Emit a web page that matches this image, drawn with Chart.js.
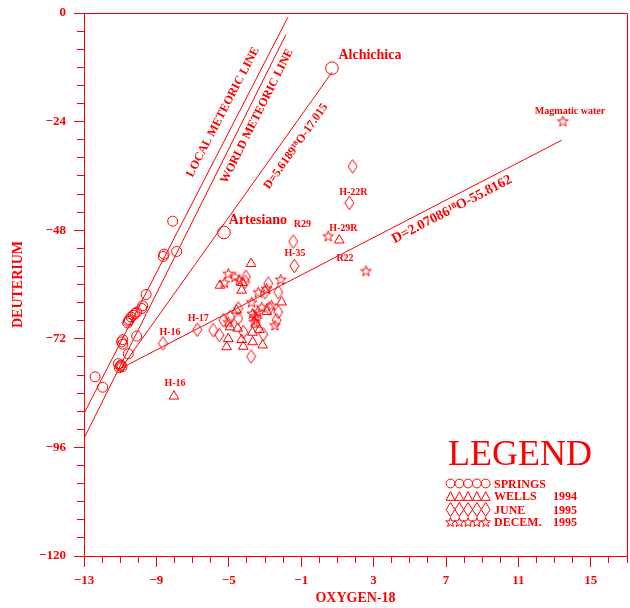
<!DOCTYPE html>
<html>
<head>
<meta charset="utf-8">
<script src="https://cdn.jsdelivr.net/npm/chart.js@4.4.1/dist/chart.umd.min.js"></script>
<style>
  body { margin: 0; background: #fff; }
</style>
</head>
<body>
<canvas id="isotopes" width="630" height="608"></canvas>
<script>
var red = '#ff0000';
var serif = '"Liberation Serif", "DejaVu Serif", serif';

// springs (circles)
var springsX = [-8.10, -8.58, -8.62, -7.88, -9.57, -9.76, -9.81, -10.18, -10.28, -10.09, -10.40,
  -10.55, -10.59, -10.50, -10.09, -10.86, -10.92, -10.86, -10.55, -11.10, -11.00, -10.90, -11.05,
  -10.95, -12.39, -11.97];
var springsY = [-46.0, -53.3, -53.8, -52.7, -62.2, -64.7, -65.3, -66.4, -66.8, -66.1, -67.2,
  -68.1, -68.5, -67.8, -71.4, -72.2, -72.7, -73.2, -75.3, -77.5, -78.0, -78.2, -78.4,
  -77.8, -80.4, -82.7];
var namedSpringsX = [-5.27, 0.70];
var namedSpringsY = [-48.5, -12.2];

// wells 1994 (triangles)
var wellsX = [-8.03, -3.77, -5.49, -4.29, -4.25, -2.08, -4.57, -4.93, -4.51, -5.03, -4.29,
  -3.68, -3.13, -5.12, -4.20, -3.50, -3.70, -3.30, -2.90, 1.10];
var wellsY = [-84.7, -55.4, -60.2, -61.3, -59.6, -63.9, -65.7, -69.4, -69.7, -72.0, -72.2,
  -72.7, -73.4, -73.8, -73.7, -68.8, -70.6, -70.0, -66.0, -50.2];

// june 1995 (diamonds)
var juneX = [-8.64, -6.74, -5.86, -5.52, -3.77, -1.44, -1.38, 1.84, 1.66, -4.05, -4.10, -2.82,
  -3.00, -2.27, -4.48, -2.77, -2.27, -4.48, -2.36, -4.93, -5.30, -3.10, -4.20];
var juneY = [-73.0, -70.0, -70.1, -71.2, -75.9, -50.5, -55.9, -33.9, -42.0, -58.3, -59.4, -59.8,
  -61.7, -61.7, -65.3, -65.3, -66.1, -67.5, -67.9, -67.2, -67.9, -71.0, -70.5];

// december 1995 (stars)
var decemX = [-5.03, -4.66, -4.42, -5.25, -2.13, -3.37, -2.91, -3.74, -3.55, -3.70, -3.45,
  -3.60, -3.40, -5.03, -2.45, -3.18, -2.64, 0.49, 2.58];
var decemY = [-57.6, -58.3, -59.1, -59.6, -58.9, -61.7, -60.9, -63.9, -67.0, -66.4, -67.6,
  -68.2, -66.0, -68.3, -69.0, -65.0, -64.6, -49.3, -57.0];

var magmaticX = [13.46];
var magmaticY = [-23.9];

// reference and fitted lines (end points)
var localLineX = [-13, -1.73];
var localLineY = [-88.5, -0.9];
var worldLineX = [-13, -1.85];
var worldLineY = [-94, -4.8];
var fitAX = [-11.0, 0.7];
var fitAY = [-78.8, -13.1];
var fitBX = [-11.0, 13.4];
var fitBY = [-78.6, -28.1];

var xTicks = [-13, -9, -5, -1, 3, 7, 11, 15];
var yTicks = [-120, -96, -72, -48, -24, 0];

var notes = [
  { text: 'Alchichica', x: 2.80, y: -9.35, size: 14 },
  { text: 'Artesiano', x: -3.39, y: -45.8, size: 14 },
  { text: 'R29', x: -0.93, y: -46.7, size: 10 },
  { text: 'H-35', x: -1.34, y: -53.2, size: 10 },
  { text: 'H-22R', x: 1.88, y: -39.6, size: 10 },
  { text: 'H-29R', x: 1.33, y: -47.5, size: 10 },
  { text: 'R22', x: 1.42, y: -54.3, size: 10 },
  { text: 'H-17', x: -6.69, y: -67.5, size: 10 },
  { text: 'H-16', x: -8.25, y: -70.5, size: 10 },
  { text: 'H-16', x: -7.97, y: -81.9, size: 10 },
  { text: 'Magmatic water', x: 13.85, y: -21.7, size: 10 },
  { text: 'LOCAL METEORIC LINE', x: -5.32, y: -21.9, size: 12, angle: -62.4 },
  { text: 'WORLD METEORIC LINE', x: -3.44, y: -22.8, size: 12, angle: -63.4 },
  { text: 'D=5.6189\u00b9\u2078O-17.015', x: -1.29, y: -29.5, size: 12, angle: -54.6 },
  { text: 'D=2.07086\u00b9\u2078O-55.8162', x: 7.33, y: -43.4, size: 14, angle: -27.4 }
];

function pts(xs, ys) {
  return xs.map(function (x, i) { return { x: x, y: ys[i] }; });
}
function tickText(v) {
  return String(v).replace('-', '\u2212');
}

function diamondPath(g, cx, cy, hw, hh) {
  g.moveTo(cx, cy - hh);
  g.lineTo(cx + hw, cy);
  g.lineTo(cx, cy + hh);
  g.lineTo(cx - hw, cy);
  g.closePath();
}
function starPath(g, cx, cy, ro, ri) {
  for (var i = 0; i < 10; i++) {
    var a = -Math.PI / 2 + i * Math.PI / 5;
    var r = i % 2 ? ri : ro;
    if (i === 0) g.moveTo(cx + r * Math.cos(a), cy + r * Math.sin(a));
    else g.lineTo(cx + r * Math.cos(a), cy + r * Math.sin(a));
  }
  g.closePath();
}
function triPath(g, cx, cy, hw, hh) {
  g.moveTo(cx, cy - hh);
  g.lineTo(cx + hw, cy + hh);
  g.lineTo(cx - hw, cy + hh);
  g.closePath();
}
function symbol(w, h, draw) {
  var c = document.createElement('canvas');
  c.width = w; c.height = h;
  var g = c.getContext('2d');
  g.strokeStyle = red; g.lineWidth = 1;
  g.beginPath(); draw(g); g.stroke();
  return c;
}
var diamondImg = symbol(11, 16, function (g) { diamondPath(g, 5.5, 8, 4.5, 6.8); });
var starImg = symbol(13, 13, function (g) { starPath(g, 6.5, 6.9, 5.6, 2.3); });

function lineSet(xs, ys) {
  return { data: pts(xs, ys), showLine: true, pointRadius: 0, borderColor: red, borderWidth: 1, fill: false };
}
function pointSet(xs, ys, style, radius) {
  return {
    data: pts(xs, ys), pointStyle: style, pointRadius: radius, borderColor: red,
    borderWidth: 1, backgroundColor: 'rgba(0,0,0,0)', showLine: false
  };
}

var extras = {
  id: 'extras',
  afterDraw: function (chart) {
    var ctx = chart.ctx, a = chart.chartArea;
    var xs = chart.scales.x, ys = chart.scales.y;
    function al(p) { return Math.round(p - 0.5) + 0.5; }
    ctx.save();
    ctx.strokeStyle = red; ctx.fillStyle = red; ctx.lineWidth = 1;
    // frame and long ticks
    ctx.beginPath();
    ctx.moveTo(al(a.left), al(a.top)); ctx.lineTo(al(a.right), al(a.top)); ctx.lineTo(al(a.right), al(a.bottom));
    yTicks.forEach(function (v) {
      var p = al(ys.getPixelForValue(v));
      ctx.moveTo(a.left - 10, p); ctx.lineTo(a.left, p);
    });
    xTicks.forEach(function (v) {
      var p = al(xs.getPixelForValue(v));
      ctx.moveTo(p, a.bottom); ctx.lineTo(p, a.bottom + 11);
    });
    ctx.stroke();

    // notes
    notes.forEach(function (n) {
      ctx.save();
      ctx.translate(xs.getPixelForValue(n.x), ys.getPixelForValue(n.y));
      if (n.angle) ctx.rotate(n.angle * Math.PI / 180);
      ctx.font = 'bold ' + n.size + 'px ' + serif;
      ctx.textAlign = 'center'; ctx.textBaseline = 'middle';
      ctx.fillText(n.text, 0, 0);
      ctx.restore();
    });

    // legend
    ctx.font = '36px ' + serif;
    ctx.textAlign = 'center'; ctx.textBaseline = 'alphabetic';
    ctx.fillText('LEGEND', 520, 465);
    var rows = [
      { y: 483.5, name: 'SPRINGS', year: '' },
      { y: 496, name: 'WELLS', year: '1994' },
      { y: 509.5, name: 'JUNE', year: '1995' },
      { y: 522, name: 'DECEM.', year: '1995' }
    ];
    ctx.beginPath();
    for (var i = 0; i < 5; i++) {
      var cx = 450.5 + i * 8.8;
      ctx.moveTo(cx + 4.4, 483.5); ctx.arc(cx, 483.5, 4.4, 0, Math.PI * 2);
      triPath(ctx, cx, 496, 4.4, 4.4);
      diamondPath(ctx, cx, 509.5, 4.4, 7);
      starPath(ctx, cx, 522.5, 5, 2.1);
    }
    ctx.stroke();
    ctx.font = 'bold 12px ' + serif;
    ctx.textAlign = 'left'; ctx.textBaseline = 'middle';
    rows.forEach(function (r) {
      ctx.fillText(r.name, 494, r.y + 1);
      if (r.year) ctx.fillText(r.year, 553, r.y + 1);
    });
    ctx.restore();
  }
};

new Chart(document.getElementById('isotopes'), {
  type: 'scatter',
  data: {
    datasets: [
      lineSet(localLineX, localLineY),
      lineSet(worldLineX, worldLineY),
      lineSet(fitAX, fitAY),
      lineSet(fitBX, fitBY),
      pointSet(springsX, springsY, 'circle', 5),
      pointSet(namedSpringsX, namedSpringsY, 'circle', 6.3),
      pointSet(wellsX, wellsY, 'triangle', 5.6),
      pointSet(juneX, juneY, diamondImg, 5),
      pointSet(decemX, decemY, starImg, 5),
      pointSet(magmaticX, magmaticY, starImg, 5)
    ]
  },
  options: {
    responsive: false,
    animation: false,
    layout: { autoPadding: false, padding: { top: 13, right: 3, left: 0, bottom: 0 } },
    plugins: { legend: { display: false }, tooltip: { enabled: false } },
    scales: {
      x: {
        type: 'linear', min: -13, max: 17,
        afterFit: function (s) { s.height = 52; s.paddingLeft = 0; s.paddingRight = 0; },
        ticks: {
          stepSize: 1, autoSkip: false, maxRotation: 0, color: red, padding: 10,
          font: { family: serif, size: 13, weight: 'bold' },
          callback: function (v) { return xTicks.indexOf(v) >= 0 ? tickText(v) : ''; }
        },
        grid: { drawOnChartArea: false, tickLength: 7, color: red, tickColor: red },
        border: { color: red, width: 1 },
        title: {
          display: true, text: 'OXYGEN-18', color: red,
          font: { family: serif, size: 14, weight: 'bold' }, padding: { top: 0, bottom: 1 }
        }
      },
      y: {
        type: 'linear', min: -120, max: 0,
        afterFit: function (s) { s.width = 84; s.paddingTop = 0; s.paddingBottom = 0; },
        ticks: {
          stepSize: 4, autoSkip: false, color: red, padding: 11,
          font: { family: serif, size: 13, weight: 'bold' },
          callback: function (v) { return yTicks.indexOf(v) >= 0 ? tickText(v) : ''; }
        },
        grid: { drawOnChartArea: false, tickLength: 7, color: red, tickColor: red },
        border: { color: red, width: 1 },
        title: {
          display: true, text: 'DEUTERIUM', color: red,
          font: { family: serif, size: 14, weight: 'bold' }, padding: { top: 10, bottom: 0 }
        }
      }
    }
  },
  plugins: [extras]
});
</script>
</body>
</html>
